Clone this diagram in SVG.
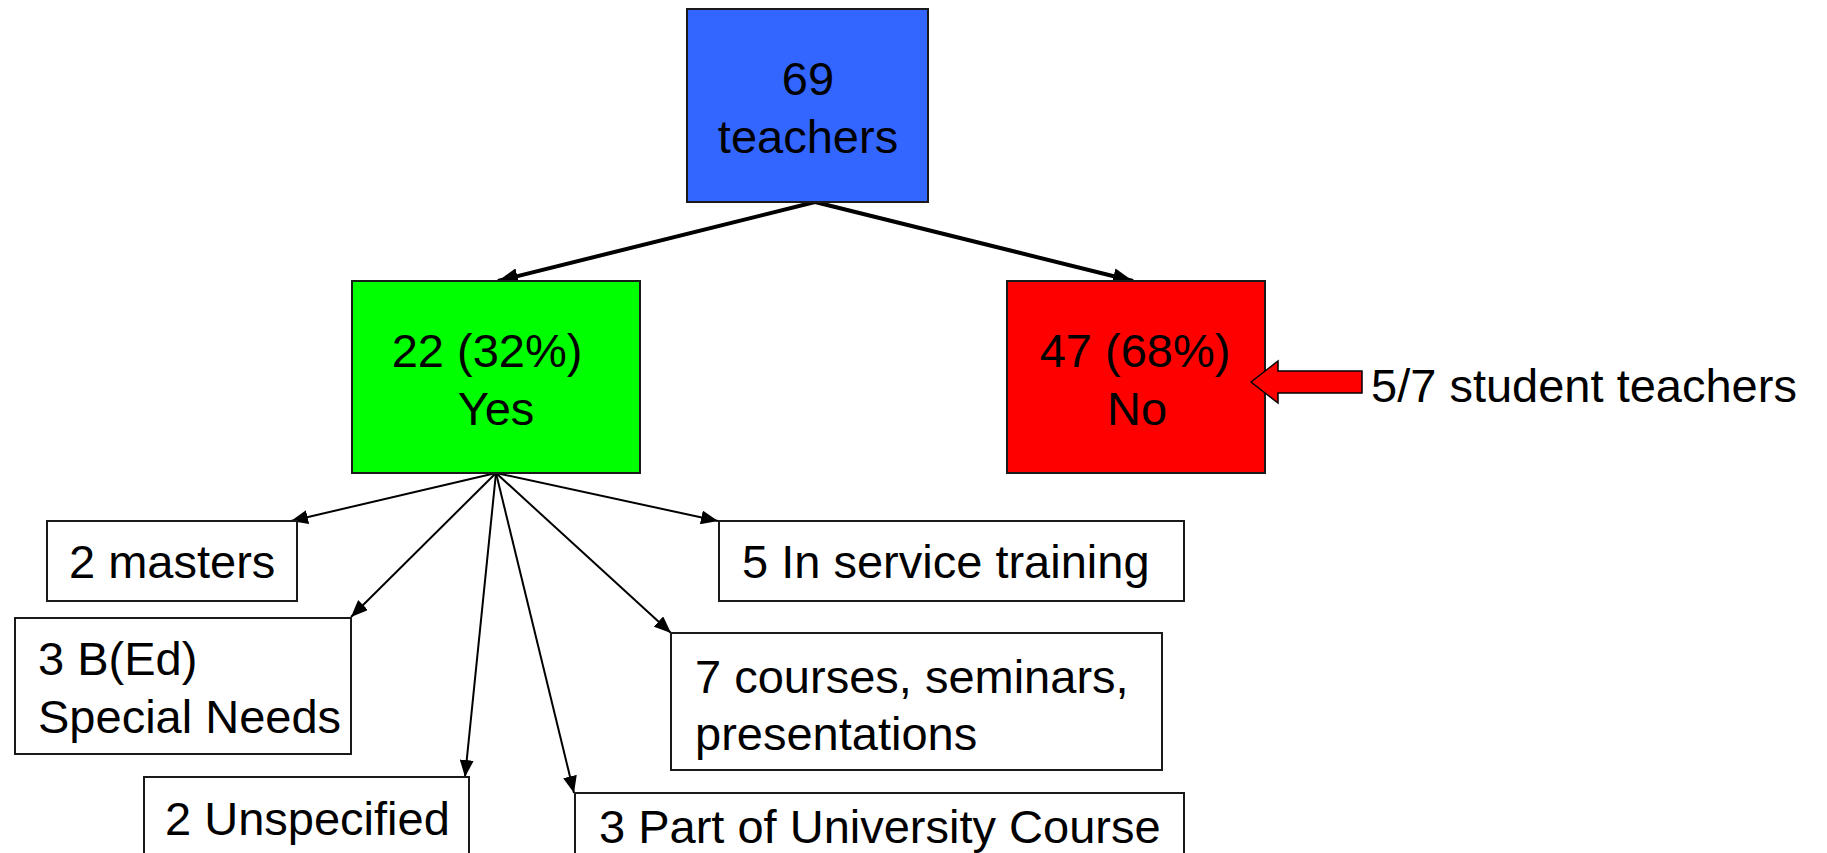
<svg xmlns="http://www.w3.org/2000/svg" width="1827" height="853" viewBox="0 0 1827 853">
<style>
text{font-family:"Liberation Sans",Arial,sans-serif;font-size:47px;fill:#000}
.box{stroke:#1a1a1a;stroke-width:2}
.wb{fill:#fff}
.thick{stroke:#000;stroke-width:4;fill:none}
.thin{stroke:#000;stroke-width:2;fill:none}
</style>
<defs>
<marker id="ah" markerUnits="userSpaceOnUse" markerWidth="22" markerHeight="16" refX="20" refY="8" orient="auto"><path d="M0,0 L20,8 L0,16 z" fill="#000"/></marker>
<marker id="as" markerUnits="userSpaceOnUse" markerWidth="18" markerHeight="14" refX="17" refY="7" orient="auto"><path d="M0,0 L17,7 L0,14 z" fill="#000"/></marker>
</defs>
<g id="connectors">
<line class="thick" x1="815" y1="202" x2="498" y2="281" marker-end="url(#ah)"/>
<line class="thick" x1="815" y1="202" x2="1133" y2="281" marker-end="url(#ah)"/>
<line class="thin" x1="496" y1="473" x2="291" y2="521" marker-end="url(#as)"/>
<line class="thin" x1="496" y1="473" x2="351" y2="617" marker-end="url(#as)"/>
<line class="thin" x1="496" y1="473" x2="465" y2="777" marker-end="url(#as)"/>
<line class="thin" x1="496" y1="473" x2="574" y2="793" marker-end="url(#as)"/>
<line class="thin" x1="496" y1="473" x2="671" y2="633" marker-end="url(#as)"/>
<line class="thin" x1="496" y1="473" x2="718" y2="521" marker-end="url(#as)"/>
</g>
<g id="root">
<rect class="box" x="687" y="9" width="241" height="193" fill="#3366FF"/>
<text x="808" y="95" text-anchor="middle">69</text>
<text x="808" y="153" text-anchor="middle">teachers</text>
</g>
<g id="yes">
<rect class="box" x="352" y="281" width="288" height="192" fill="#00FF00"/>
<text x="487" y="367" text-anchor="middle">22 (32%)</text>
<text x="496" y="425" text-anchor="middle">Yes</text>
</g>
<g id="no">
<rect class="box" x="1007" y="281" width="258" height="192" fill="#FF0000"/>
<text x="1135" y="367" text-anchor="middle">47 (68%)</text>
<text x="1137" y="425" text-anchor="middle">No</text>
</g>
<g id="student-arrow">
<polygon points="1251,382 1278,361 1278,371 1362,371 1362,393 1278,393 1278,403" fill="#FF0000" stroke="#000" stroke-width="1.5"/>
<text x="1371" y="402">5/7 student teachers</text>
</g>
<g id="masters">
<rect class="box wb" x="47" y="521" width="250" height="80"/>
<text x="69" y="578">2 masters</text>
</g>
<g id="bed">
<rect class="box wb" x="15" y="618" width="336" height="136"/>
<text x="38" y="675">3 B(Ed)</text>
<text x="38" y="733">Special Needs</text>
</g>
<g id="unspecified">
<rect class="box wb" x="144" y="777" width="325" height="100"/>
<text x="165" y="835">2 Unspecified</text>
</g>
<g id="university">
<rect class="box wb" x="575" y="793" width="609" height="100"/>
<text x="599" y="843">3 Part of University Course</text>
</g>
<g id="inservice">
<rect class="box wb" x="719" y="521" width="465" height="80"/>
<text x="742" y="578" font-size="48">5 In service training</text>
</g>
<g id="courses">
<rect class="box wb" x="671" y="633" width="491" height="137"/>
<text x="695" y="693">7 courses, seminars,</text>
<text x="695" y="750">presentations</text>
</g>
</svg>
